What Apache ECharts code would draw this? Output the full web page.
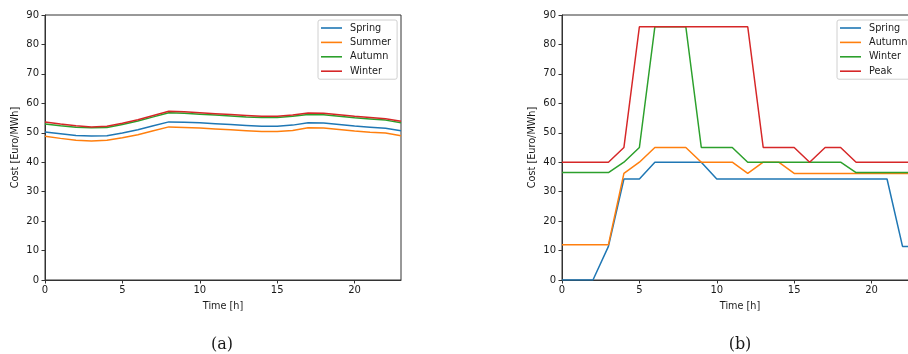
<!DOCTYPE html>
<html>
<head>
<meta charset="utf-8">
<script src="https://cdn.jsdelivr.net/npm/echarts@6/dist/echarts.min.js"></script>
<style>html,body{margin:0;padding:0;background:#fff}#c{width:908px;height:354px}</style>
</head>
<body>
<div id="c"></div>
<script>
const hours = [0,1,2,3,4,5,6,7,8,9,10,11,12,13,14,15,16,17,18,19,20,21,22,23];
const xTicks = [0,5,10,15,20];

// Panel (a)
const aSpring = [50.3,49.7,49.1,48.9,49.0,49.9,51.0,52.4,53.7,53.6,53.4,53.1,52.8,52.5,52.2,52.2,52.6,53.4,53.3,52.8,52.3,51.9,51.5,50.7];
const aSummer = [48.8,48.1,47.5,47.2,47.5,48.3,49.3,50.7,52.0,51.8,51.6,51.3,51.0,50.7,50.4,50.4,50.8,51.7,51.6,51.1,50.6,50.2,49.9,49.0];
const aAutumn = [53.0,52.4,51.9,51.7,51.8,52.8,54.0,55.4,56.8,56.6,56.3,56.0,55.7,55.4,55.2,55.2,55.6,56.2,56.1,55.6,55.1,54.7,54.3,53.4];
const aWinter = [53.7,53.0,52.4,52.0,52.2,53.2,54.4,55.9,57.3,57.1,56.8,56.5,56.2,55.9,55.6,55.6,56.0,56.7,56.6,56.1,55.6,55.2,54.8,53.9];

// Panel (b)
const bSpring = [0,0,0,11.4,34.3,34.3,40,40,40,40,34.3,34.3,34.3,34.3,34.3,34.3,34.3,34.3,34.3,34.3,34.3,34.3,11.4,11.4];
const bAutumn = [12,12,12,12,36.2,40,45,45,45,40,40,40,36.2,40,40,36.2,36.2,36.2,36.2,36.2,36.2,36.2,36.2,36.2];
const bWinter = [36.5,36.5,36.5,36.5,40,45,86,86,86,45,45,45,40,40,40,40,40,40,40,36.5,36.5,36.5,36.5,36.5];
const bPeak   = [40,40,40,40,45,86,86,86,86,86,86,86,86,45,45,45,40,45,45,40,40,40,40,40];

const C = {blue:'#1f77b4', orange:'#ff7f0e', green:'#2ca02c', red:'#d62728'};
const FONT = 'DejaVu Sans';
const pairs = arr => hours.map((h,i)=>[h,arr[i]]);

function xAxis(gi){
  return {
    type:'value', gridIndex:gi, min:0, max:23, name:'Time [h]', nameLocation:'middle', nameGap:21,
    nameTextStyle:{fontFamily:FONT,fontSize:9.7,color:'#1a1a1a'},
    axisLine:{show:true,onZero:false,lineStyle:{color:'#333',width:1}},
    axisTick:{show:true,length:3.5,customValues:xTicks,lineStyle:{color:'#333'}},
    axisLabel:{customValues:xTicks,fontFamily:FONT,fontSize:10,color:'#1a1a1a',margin:5},
    splitLine:{show:false}
  };
}
function yAxis(gi){
  return {
    type:'value', gridIndex:gi, min:0, max:90, interval:10, name:'Cost [Euro/MWh]', nameLocation:'middle', nameGap:25,
    nameTextStyle:{fontFamily:FONT,fontSize:9.7,color:'#1a1a1a'},
    axisLine:{show:true,lineStyle:{color:'#333',width:1}},
    axisTick:{show:true,length:3.5,lineStyle:{color:'#333'}},
    axisLabel:{fontFamily:FONT,fontSize:10,color:'#1a1a1a',margin:6},
    splitLine:{show:false}
  };
}
function line(name, arr, color, gi){
  return {type:'line', name, data:pairs(arr), xAxisIndex:gi, yAxisIndex:gi, showSymbol:false, symbol:'none',
    lineStyle:{color, width:1.5}, itemStyle:{color}, animation:false, silent:true};
}
function legend(left, items){
  return {
    left, top:20, orient:'vertical', icon:'rect', itemWidth:21, itemHeight:1.6, itemGap:4.4,
    padding:[3,6,3,3], borderColor:'#d0d0d0', borderWidth:1, borderRadius:2, backgroundColor:'#fff',
    textStyle:{fontFamily:FONT,fontSize:9.7,color:'#1a1a1a',padding:[0,0,0,3]},
    selectedMode:false,
    data: items.map(([n,c])=>({name:n, itemStyle:{color:c}}))
  };
}

const chart = echarts.init(document.getElementById('c'), null, {renderer:'canvas'});
chart.setOption({
  animation:false,
  grid:[
    {left:45, top:15, width:356, height:265, show:true, borderColor:'#333', borderWidth:1, backgroundColor:'#fff', outerBoundsMode:'none', containLabel:false},
    {left:562, top:15, width:356, height:265, show:true, borderColor:'#333', borderWidth:1, backgroundColor:'#fff', outerBoundsMode:'none', containLabel:false}
  ],
  xAxis:[xAxis(0), xAxis(1)],
  yAxis:[yAxis(0), yAxis(1)],
  legend:[
    legend(318, [['Spring',C.blue],['Summer',C.orange],['Autumn',C.green],['Winter',C.red]]),
    legend(837, [['Spring',C.blue],['Autumn',C.orange],['Winter',C.green],['Peak',C.red]])
  ],
  title:[
    {text:'(a)', left:217, top:332, textAlign:'center', textStyle:{fontFamily:'DejaVu Serif',fontSize:16,fontWeight:'normal',color:'#1a1a1a'}},
    {text:'(b)', left:735, top:332, textAlign:'center', textStyle:{fontFamily:'DejaVu Serif',fontSize:16,fontWeight:'normal',color:'#1a1a1a'}}
  ],
  series:[
    line('Spring', aSpring, C.blue, 0),
    line('Summer', aSummer, C.orange, 0),
    line('Autumn', aAutumn, C.green, 0),
    line('Winter', aWinter, C.red, 0),
    line('Spring', bSpring, C.blue, 1),
    line('Autumn', bAutumn, C.orange, 1),
    line('Winter', bWinter, C.green, 1),
    line('Peak', bPeak, C.red, 1)
  ]
});
</script>
</body>
</html>
